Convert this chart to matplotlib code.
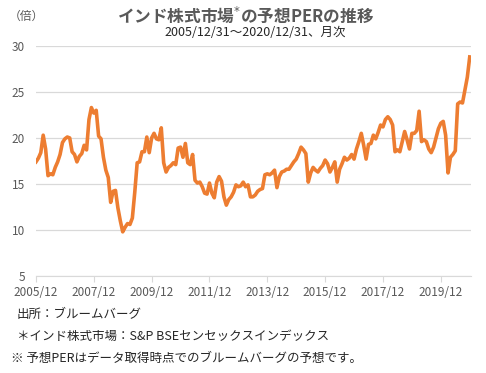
import matplotlib
matplotlib.use("Agg")
import matplotlib.pyplot as plt

plt.rcParams['font.family'] = ['Noto Sans CJK JP', 'DejaVu Sans']

# monthly forward PER, 2005/12 .. 2020/12 (181 points)
per = [
    17.4, 17.8, 18.4, 20.3, 18.8, 15.9, 16.1, 16.0, 16.8, 17.4, 18.2, 19.5,
    19.9, 20.1, 20.0, 18.5, 18.2, 17.4, 18.0, 18.3, 19.2, 18.7, 22.0, 23.3,
    22.7, 23.0, 20.2, 19.9, 17.9, 16.5, 15.7, 13.0, 14.2, 14.3, 12.4, 11.0,
    9.8, 10.3, 10.7, 10.6, 11.3, 14.1, 17.3, 17.4, 18.5, 18.5, 20.1, 18.4,
    20.0, 20.5, 19.9, 19.8, 21.1, 17.3, 16.3, 16.8, 17.0, 17.3, 17.1, 18.9,
    19.0, 17.9, 19.4, 17.3, 17.1, 18.2, 15.4, 15.1, 15.2, 14.7, 14.0, 13.9,
    15.1, 14.0, 13.5, 15.2, 15.8, 15.3, 13.6, 12.7, 13.3, 13.6, 14.1, 14.9,
    14.7, 14.8, 15.2, 14.7, 14.9, 13.6, 13.6, 13.8, 14.2, 14.4, 14.5, 16.0,
    16.1, 16.0, 16.2, 16.5, 14.6, 15.8, 16.3, 16.4, 16.6, 16.6, 17.0, 17.4,
    17.7, 18.3, 19.0, 18.7, 18.3, 15.2, 16.2, 16.8, 16.5, 16.3, 16.7, 17.0,
    17.6, 17.2, 16.3, 16.8, 17.4, 15.2, 16.6, 17.2, 17.9, 17.6, 17.8, 18.2,
    17.7, 18.8, 19.6, 20.5, 19.2, 17.7, 19.3, 19.4, 20.3, 19.9, 20.6, 21.4,
    21.2, 22.0, 22.3, 22.0, 21.4, 18.5, 18.7, 18.5, 19.6, 20.7, 19.8, 18.8,
    20.5, 20.5, 20.8, 22.9, 19.6, 19.8, 19.6, 18.8, 18.4, 19.0, 20.0, 21.0,
    21.6, 21.8, 20.3, 16.2, 17.9, 18.2, 18.6, 23.7, 23.9, 23.8, 25.2, 26.6,
    28.8,
]
tick_pos = [0, 24, 48, 72, 96, 120, 144, 168]
tick_labels = ['2005/12', '2007/12', '2009/12', '2011/12',
               '2013/12', '2015/12', '2017/12', '2019/12']
y_ticks = [5, 10, 15, 20, 25, 30]

fig = plt.figure(figsize=(4.86, 3.73), dpi=100)
ax = fig.add_axes([0.074, 0.26, 0.895, 0.617])

ax.plot(range(len(per)), per, color='#ED7D31', lw=2.6, solid_joinstyle='round')

ax.set_xlim(0, 180.5)
ax.set_ylim(5, 30)
ax.set_yticks(y_ticks)
ax.set_xticks(tick_pos)
ax.set_xticklabels(tick_labels)
ax.grid(axis='y', color='#D9D9D9', lw=0.9)
ax.set_axisbelow(True)
for s in ['top', 'right', 'left']:
    ax.spines[s].set_visible(False)
ax.spines['bottom'].set_color('#D9D9D9')
ax.tick_params(axis='y', length=0, labelsize=8.5, labelcolor='#595959', pad=8)
ax.tick_params(axis='x', length=4, color='#D9D9D9', labelsize=8.5,
               labelcolor='#595959', pad=3)

fig.text(0.018, 0.955, '（倍）', fontsize=8.5, color='#595959', va='center')
fig.text(0.505, 0.958, 'インド株式市場$^{*}$の予想PERの推移', fontsize=12,
         fontweight='bold', color='#595959', ha='center', va='center')
fig.text(0.525, 0.912, '2005/12/31～2020/12/31、月次', fontsize=9,
         color='#262626', ha='center', va='center')

notes = ['出所：ブルームバーグ',
         '＊インド株式市場：S&P BSEセンセックスインデックス',
         '※ 予想PERはデータ取得時点でのブルームバーグの予想です。']
for k, t in enumerate(notes):
    fig.text(0.035 - (0.012 if k == 2 else 0), 0.158 - k * 0.059, t,
             fontsize=9, color='#262626', va='center')

fig.savefig('out.png', dpi=100)
